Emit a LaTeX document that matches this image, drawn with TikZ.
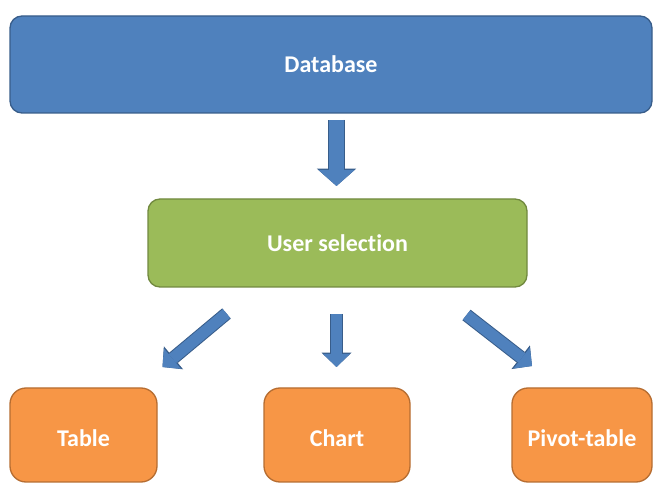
\documentclass[tikz,border=0pt]{standalone}
\usepackage{fontspec}
\setmainfont{Carlito}[Ligatures=NoCommon]
\usetikzlibrary{arrows.meta,positioning}
\definecolor{dbblue}{RGB}{79,129,189}
\definecolor{dbline}{RGB}{56,93,138}
\definecolor{selgreen}{RGB}{155,187,89}
\definecolor{selline}{RGB}{113,137,63}
\definecolor{outorange}{RGB}{247,150,70}
\definecolor{orline}{RGB}{182,109,49}
\tikzset{
  box/.style={rounded corners=9pt, line width=1pt, text=white, inner sep=0pt,
    font=\bfseries\fontsize{18}{20}\selectfont},
  dbbox/.style={box, fill=dbblue, draw=dbline, minimum width=481.5pt, minimum height=72.75pt},
  selbox/.style={box, fill=selgreen, draw=selline, minimum width=284.25pt, minimum height=66pt},
  outbox/.style={box, rounded corners=12pt, fill=outorange, draw=orline, minimum height=70.5pt,
    text height=18pt, text depth=0pt},
  bigarrow/.style={draw=dbblue, line width=11.25pt, -{Triangle[length=12pt,width=27pt,line width=0pt]},
    preaction={draw=dbline, line width=12.75pt, -{Triangle[length=13pt,width=29.5pt,line width=0pt]}}},
  smallarrow/.style={draw=dbblue, line width=8.5pt, -{Triangle[length=9.75pt,width=20pt,line width=0pt]},
    preaction={draw=dbline, line width=10pt, -{Triangle[length=10.75pt,width=22.5pt,line width=0pt]}}}
}
\begin{document}
\begin{tikzpicture}[x=0.75pt,y=0.75pt,yscale=-1,xscale=1]
\useasboundingbox (0,0) rectangle (654,484);
% Boxes
\node [dbbox] (db) at (331,64.5) {Database};
\node [selbox] (sel) at (337.5,243) {User selection};
\node [outbox, minimum width=110.25pt] (tab) at (83.5,435) {Table};
\node [outbox, minimum width=109.5pt] (chart) at (337,435) {Chart};
\node [outbox, minimum width=105pt] (pivot) at (582,435) {Pivot-table};
% Arrow ends
\coordinate (dbout) at (336.5,120);
\coordinate (selin) at (336.5,186);
\coordinate (tabfrom) at (226.5,313.5);
\coordinate (tabto) at (162.5,367);
\coordinate (chartfrom) at (336.5,314);
\coordinate (chartto) at (336.5,367);
\coordinate (pivotfrom) at (466.5,315);
\coordinate (pivotto) at (532,366);
% Arrows
\draw [bigarrow] (dbout) -- (selin);
\draw [smallarrow] (tabfrom) -- (tabto);
\draw [smallarrow] (chartfrom) -- (chartto);
\draw [smallarrow] (pivotfrom) -- (pivotto);
\end{tikzpicture}
\end{document}
